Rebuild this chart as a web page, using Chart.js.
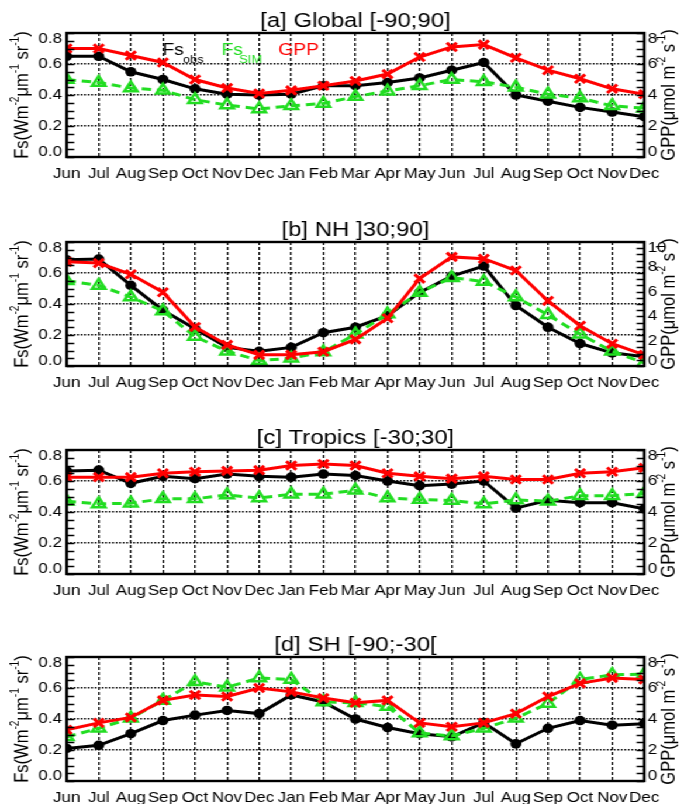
<!DOCTYPE html>
<html>
<head>
<meta charset="utf-8">
<script src="https://cdn.jsdelivr.net/npm/chart.js@4/dist/chart.umd.min.js"></script>
<style>
  html, body { margin: 0; padding: 0; background: #fff; overflow: hidden; }
  #wrap { position: relative; width: 585px; height: 804px; transform: scaleX(1.16923); transform-origin: 0 0; }
  #wrap canvas { position: absolute; left: 0; }
</style>
</head>
<body>
<div id="wrap">
  <canvas id="pGlobal" width="585" height="200" style="top:0px"></canvas>
  <canvas id="pNH" width="585" height="200" style="top:209px"></canvas>
  <canvas id="pTropics" width="585" height="200" style="top:417px"></canvas>
  <canvas id="pSH" width="585" height="200" style="top:624px"></canvas>
</div>
<script>
const months = ['Jun','Jul','Aug','Sep','Oct','Nov','Dec','Jan','Feb','Mar','Apr','May','Jun','Jul','Aug','Sep','Oct','Nov','Dec'];

const fsTicks = [0, 0.2, 0.4, 0.6, 0.8];

// Global [-90;90]
const globalObs = [0.65, 0.65, 0.55, 0.50, 0.44, 0.405, 0.40, 0.405, 0.46, 0.46, 0.48, 0.51, 0.56, 0.61, 0.40, 0.36, 0.32, 0.29, 0.26];
const globalSim = [0.50, 0.48, 0.445, 0.43, 0.37, 0.335, 0.31, 0.33, 0.345, 0.39, 0.425, 0.46, 0.50, 0.485, 0.45, 0.405, 0.38, 0.33, 0.315];
const globalGpp = [7.0, 7.0, 6.55, 6.1, 5.0, 4.45, 4.1, 4.3, 4.6, 4.9, 5.35, 6.45, 7.1, 7.25, 6.4, 5.6, 5.05, 4.4, 4.05];

// NH ]30;90]
const nhObs = [0.685, 0.69, 0.52, 0.36, 0.24, 0.12, 0.095, 0.12, 0.215, 0.25, 0.325, 0.475, 0.58, 0.645, 0.39, 0.25, 0.145, 0.085, 0.06];
const nhSim = [0.55, 0.52, 0.445, 0.355, 0.19, 0.095, 0.035, 0.05, 0.09, 0.205, 0.335, 0.475, 0.57, 0.545, 0.445, 0.33, 0.205, 0.095, 0.02];
const nhGpp = [8.4, 8.3, 7.4, 5.95, 3.15, 1.7, 0.9, 0.9, 1.15, 2.15, 3.85, 7.05, 8.8, 8.65, 7.7, 5.25, 3.25, 1.8, 0.9];

// Tropics [-30;30]
const tropObs = [0.665, 0.67, 0.585, 0.63, 0.615, 0.645, 0.63, 0.625, 0.645, 0.635, 0.60, 0.57, 0.58, 0.60, 0.425, 0.475, 0.46, 0.46, 0.42];
const tropSim = [0.47, 0.452, 0.457, 0.485, 0.485, 0.51, 0.49, 0.515, 0.515, 0.54, 0.49, 0.48, 0.475, 0.452, 0.478, 0.47, 0.505, 0.505, 0.52];
const tropGpp = [6.25, 6.25, 6.25, 6.5, 6.6, 6.65, 6.7, 7.0, 7.1, 7.0, 6.5, 6.3, 6.15, 6.3, 6.1, 6.1, 6.5, 6.6, 6.85];

// SH [-90;-30[
const shObs = [0.21, 0.23, 0.305, 0.39, 0.425, 0.455, 0.435, 0.555, 0.51, 0.40, 0.345, 0.305, 0.285, 0.375, 0.24, 0.34, 0.39, 0.36, 0.37];
const shSim = [0.285, 0.34, 0.405, 0.52, 0.64, 0.605, 0.665, 0.655, 0.51, 0.505, 0.48, 0.31, 0.29, 0.34, 0.405, 0.50, 0.655, 0.685, 0.69];
const shGpp = [3.3, 3.75, 4.1, 5.2, 5.55, 5.45, 6.0, 5.75, 5.35, 5.05, 5.2, 3.75, 3.5, 3.75, 4.35, 5.45, 6.3, 6.65, 6.55];

const FONT = "'Liberation Sans', Arial, sans-serif";
const RED = '#ff0000';
const GREEN = '#22dd22';

Chart.defaults.font.family = FONT;
Chart.defaults.color = '#000';

// text with raised pieces (exponents), centred on (cx, cy), optionally rotated
function drawRich(ctx, parts, size, cx, cy, rot) {
    const small = size * 0.62;
    ctx.save();
    ctx.translate(cx, cy);
    ctx.rotate(rot || 0);
    let w = 0;
    parts.forEach(p => {
        ctx.font = (p[1] ? small : size) + 'px ' + FONT;
        w += ctx.measureText(p[0]).width;
    });
    let x = -w / 2;
    ctx.textAlign = 'left';
    ctx.textBaseline = 'alphabetic';
    parts.forEach(p => {
        ctx.font = (p[1] ? small : size) + 'px ' + FONT;
        const y = p[1] ? size * 0.35 - size * 0.45 : size * 0.35;
        ctx.fillText(p[0], x, y);
        x += ctx.measureText(p[0]).width;
    });
    ctx.restore();
}

const panelDeco = {
    id: 'panelDeco',
    afterDatasetsDraw(chart, args, opts) {
        const { ctx, chartArea: a } = chart;
        const yFs = chart.scales.yFs;
        const yGpp = chart.scales.yGpp;
        ctx.save();
        ctx.strokeStyle = '#000';

        // small inside ticks on both vertical axes
        ctx.lineWidth = 1.6;
        ctx.beginPath();
        for (let i = 0; i <= 16; i++) {
            const y = Math.round(yFs.getPixelForValue(i * 0.05)) + 0.5;
            ctx.moveTo(a.left, y);
            ctx.lineTo(a.left + 6.5, y);
        }
        for (let g = 0; g <= opts.gppMax; g += 0.5) {
            const y = Math.round(yGpp.getPixelForValue(g)) + 0.5;
            ctx.moveTo(a.right, y);
            ctx.lineTo(a.right - 6.5, y);
        }
        ctx.stroke();

        // frame
        ctx.lineWidth = 2.4;
        ctx.strokeRect(a.left, a.top, a.right - a.left, a.bottom - a.top);
        ctx.restore();
    },
    afterDraw(chart, args, opts) {
        const { ctx, chartArea: a } = chart;
        const yFs = chart.scales.yFs;
        const yGpp = chart.scales.yGpp;
        ctx.save();
        ctx.fillStyle = '#000';

        // title
        ctx.font = '20.5px ' + FONT;
        ctx.textAlign = 'center';
        ctx.textBaseline = 'alphabetic';
        ctx.fillText(opts.title, (a.left + a.right) / 2, a.top - 6);

        // tick labels, end labels kept inside the frame height
        const clampY = y => Math.min(Math.max(y, a.top + 6), a.bottom - 5);
        ctx.font = '14.5px ' + FONT;
        ctx.textBaseline = 'middle';
        ctx.textAlign = 'right';
        fsTicks.forEach(v => {
            ctx.fillText(v.toFixed(1), a.left - 4, clampY(yFs.getPixelForValue(v)));
        });
        ctx.textAlign = 'left';
        for (let g = 0; g <= opts.gppMax; g += 2) {
            ctx.fillText(String(g), a.right + 3, clampY(yGpp.getPixelForValue(g)));
        }

        // axis titles
        const midY = (a.top + a.bottom) / 2;
        drawRich(ctx, [['Fs(Wm', 0], ['-2', 1], ['\u03bcm', 0], ['-1', 1], [' sr', 0], ['-1', 1], [')', 0]],
            16.5, 18, midY, -Math.PI / 2);
        drawRich(ctx, [['GPP(\u03bcmol m', 0], ['-2', 1], [' s', 0], ['-1', 1], [')', 0]],
            16.5, 571, midY, -Math.PI / 2);

        // series labels (top panel only)
        if (opts.legend) {
            ctx.textAlign = 'left';
            ctx.textBaseline = 'alphabetic';
            ctx.font = '16.5px ' + FONT;
            ctx.fillStyle = '#000';
            ctx.fillText('Fs', 139, 55);
            ctx.fillStyle = GREEN;
            ctx.fillText('Fs', 189.5, 55);
            ctx.fillStyle = RED;
            ctx.fillText('GPP', 238, 55);
            ctx.font = '11px ' + FONT;
            ctx.fillStyle = '#000';
            ctx.fillText('obs', 156.5, 63);
            ctx.fillStyle = GREEN;
            ctx.fillText('SIM', 204.5, 63);
        }
        ctx.restore();
    }
};

function makePanel(id, title, obs, sim, gpp, gppMax, legend) {
    return new Chart(document.getElementById(id), {
        type: 'line',
        data: {
            labels: months,
            datasets: [
                {
                    label: 'GPP',
                    data: gpp,
                    yAxisID: 'yGpp',
                    borderColor: RED,
                    borderWidth: 3,
                    pointStyle: 'crossRot',
                    pointRadius: 6,
                    pointBorderWidth: 3,
                    pointBorderColor: RED,
                    clip: 0,
                    order: 1
                },
                {
                    label: 'Fs SIM',
                    data: sim,
                    yAxisID: 'yFs',
                    borderColor: GREEN,
                    borderWidth: 3,
                    borderDash: [8, 5],
                    pointStyle: 'triangle',
                    pointRadius: 6.5,
                    pointBorderWidth: 2.5,
                    pointBorderColor: GREEN,
                    pointBackgroundColor: 'rgba(0,0,0,0)',
                    clip: 0,
                    order: 2
                },
                {
                    label: 'Fs obs',
                    data: obs,
                    yAxisID: 'yFs',
                    borderColor: '#000',
                    borderWidth: 3,
                    pointStyle: 'circle',
                    pointRadius: 4.8,
                    pointBorderWidth: 0,
                    pointBackgroundColor: '#000',
                    clip: 0,
                    order: 3
                }
            ]
        },
        options: {
            responsive: false,
            animation: false,
            layout: { padding: { top: 33, left: 57, right: 34, bottom: 0 } },
            plugins: {
                legend: { display: false },
                tooltip: { enabled: false },
                panelDeco: { title: title, gppMax: gppMax, legend: legend }
            },
            scales: {
                x: {
                    grid: { color: '#000', lineWidth: 1.3, drawTicks: false },
                    border: { display: false, dash: [3, 2] },
                    ticks: { autoSkip: false, maxRotation: 0, padding: 8, color: '#000', font: { size: 14.5 } },
                    afterFit: s => { s.height = 43; }
                },
                yFs: {
                    position: 'left',
                    min: 0,
                    max: 0.8,
                    ticks: { display: false, stepSize: 0.2 },
                    grid: { color: '#000', lineWidth: 1.6, drawTicks: false },
                    border: { display: false, dash: [1.5, 1.5] },
                    afterFit: s => { s.width = 0; }
                },
                yGpp: {
                    position: 'right',
                    min: 0,
                    max: gppMax,
                    ticks: { display: false },
                    grid: { display: false },
                    border: { display: false },
                    afterFit: s => { s.width = 0; }
                }
            }
        },
        plugins: [panelDeco]
    });
}

makePanel('pGlobal', '[a] Global [-90;90]', globalObs, globalSim, globalGpp, 8, true);
makePanel('pNH', '[b] NH ]30;90]', nhObs, nhSim, nhGpp, 10, false);
makePanel('pTropics', '[c] Tropics [-30;30]', tropObs, tropSim, tropGpp, 8, false);
makePanel('pSH', '[d] SH [-90;-30[', shObs, shSim, shGpp, 8, false);
</script>
</body>
</html>
